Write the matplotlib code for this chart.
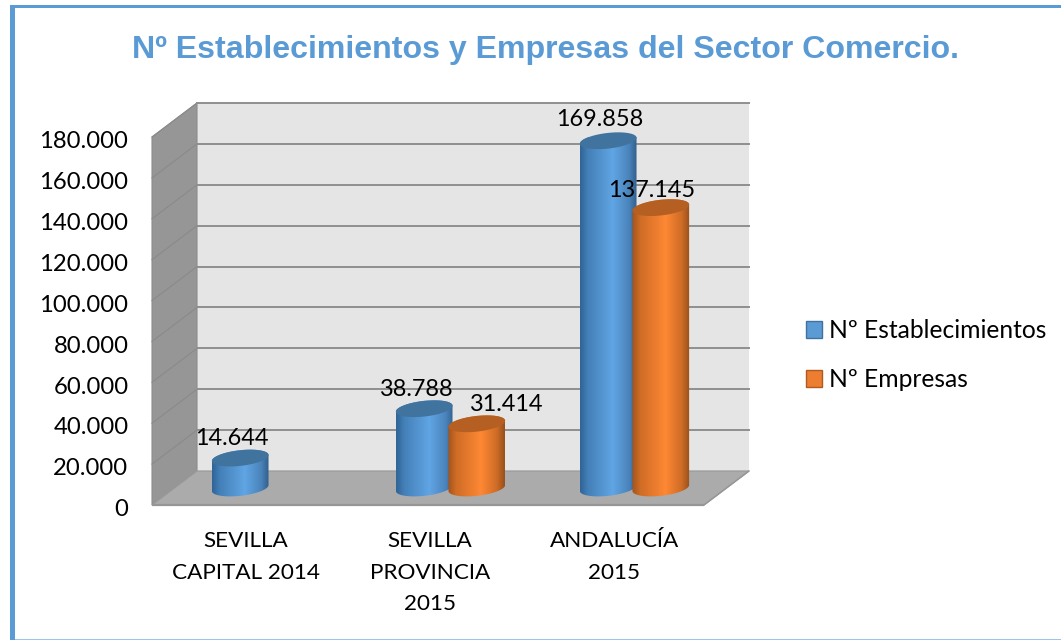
import numpy as np
import matplotlib
matplotlib.use("Agg")
import matplotlib.pyplot as plt
from matplotlib.colors import LinearSegmentedColormap
from matplotlib.patches import Patch, Polygon, Rectangle
from matplotlib.path import Path
from matplotlib.transforms import ScaledTranslation

categories = ["SEVILLA\nCAPITAL 2014", "SEVILLA\nPROVINCIA\n2015", "ANDALUCÍA\n2015"]
establecimientos = [14644, 38788, 169858]
empresas = [None, 31414, 137145]
y_ticks = [0, 20000, 40000, 60000, 80000, 100000, 120000, 140000, 160000, 180000]
y_tick_labels = ["0", "20.000", "40.000", "60.000", "80.000", "100.000",
                 "120.000", "140.000", "160.000", "180.000"]
title = "Nº Establecimientos y Empresas del Sector Comercio."
series_names = ["Nº Establecimientos", "Nº Empresas"]
value_labels_a = ["14.644", "38.788", "169.858"]
value_labels_b = [None, "31.414", "137.145"]

W, H = 1061, 640
FONT = "Lato"
FS_TICK = 17.2
FS_VAL = 16.9
FS_LEG = 17.7
FS_CAT = 16.2
fig = plt.figure(figsize=(W / 100, H / 100), dpi=100, facecolor="white")

# figure frame
BLUE = "#5B9BD5"
fig.add_artist(Rectangle((10 / W, 0), 5 / W, 1 - 5 / H, transform=fig.transFigure, fc=BLUE, ec="none"))
fig.add_artist(Rectangle((10 / W, 1 - 8 / H), 1 - 10 / W, 3 / H, transform=fig.transFigure, fc=BLUE, ec="none"))
fig.add_artist(Rectangle((15 / W, 0), 1 - 15 / W, 1.5 / H, transform=fig.transFigure, fc="#9DC3E6", ec="none"))

L, R, T, B = 152, 704, 137, 505
ax = fig.add_axes([L / W, 1 - B / H, (R - L) / W, (B - T) / H])
ax.patch.set_alpha(0)
for s in ax.spines.values():
    s.set_visible(False)

XMAX, YMAX = 3.0, 180000.0
sx = XMAX / (R - L)   # data units per pixel
sy = YMAX / (B - T)
DX, DY = 45, 34       # depth of the 3D box, pixels


def px(x, y, dx=0, dy=0):
    return (x + dx * sx, y + dy * sy)


# walls
ax.add_patch(Polygon([px(0, 0, DX, DY), px(XMAX, 0, DX, DY), px(XMAX, YMAX, DX, DY), px(0, YMAX, DX, DY)],
                     fc="#E5E5E5", ec="none", zorder=1, clip_on=False))
ax.add_patch(Polygon([px(0, 0), px(0, 0, DX, DY), px(0, YMAX, DX, DY), px(0, YMAX)],
                     fc="#969696", ec="#8C8C8C", lw=0.8, zorder=1.1, clip_on=False))
for v in y_ticks[1:]:
    a, b = px(0, v), px(0, v, DX, DY)
    ax.plot([a[0], b[0]], [a[1], b[1]], color="#8A8A8A", lw=0.8, zorder=1.2, clip_on=False)
    a, b = px(0, v, DX, DY), px(XMAX, v, DX, DY)
    ax.plot([a[0], b[0]], [a[1], b[1]], color="#8F8F8F", lw=1.4, zorder=1.3, clip_on=False)
ax.add_patch(Polygon([px(0, 0), px(XMAX, 0), px(XMAX, 0, DX, DY), px(0, 0, DX, DY)],
                     fc="#ABABAB", ec="#9A9A9A", lw=0.9, zorder=1.5, clip_on=False))
ax.plot([0, XMAX], [0, 0], color="#969696", lw=1.6, zorder=1.6, clip_on=False, solid_capstyle="butt")
ax.plot(*zip(px(XMAX, 0), px(XMAX, 0, DX, DY)), color="#969696", lw=1.0, zorder=1.6, clip_on=False)

# cylinders
A, Bb, TILT = 28.5, 7.8, np.radians(6.5)
BAR_OFF = 26.3
t = np.linspace(0, 2 * np.pi, 121)
ex = A * np.cos(t) * np.cos(TILT) - Bb * np.sin(t) * np.sin(TILT)
ey = A * np.cos(t) * np.sin(TILT) + Bb * np.sin(t) * np.cos(TILT)


def ellipse(cx, cy):
    return np.column_stack([cx + ex * sx, cy + ey * sy])


cm_a = LinearSegmentedColormap.from_list("a", [(0, "#2F6496"), (0.14, "#4480B8"), (0.58, "#60A5E4"),
                                               (0.86, "#4B84BC"), (1, "#31608C")])
cm_b = LinearSegmentedColormap.from_list("b", [(0, "#A2541C"), (0.14, "#CF6C26"), (0.58, "#FE8834"),
                                               (0.86, "#CE6C26"), (1, "#98501C")])
grad = np.linspace(0, 1, 128).reshape(1, -1)
base = DY / 2 * sy


def cylinder(x0, value, cmap, top, z):
    cx = x0 + (DX / 2) * sx
    ax.bar(cx, value, width=2 * A * 0.8 * sx, bottom=base, color=top, zorder=z, clip_on=False)
    b_el = ellipse(cx, base)
    t_el = ellipse(cx, base + value)
    body = np.vstack([b_el[t >= np.pi - 0.01], t_el[t <= np.pi + 0.01]])
    path = Path(np.vstack([body, body[:1]]), closed=True)
    w = A * sx
    im = ax.imshow(grad, cmap=cmap, aspect="auto", zorder=z + 0.1, interpolation="bilinear",
                   extent=(cx - w, cx + w, base - 12 * sy, base + value + 12 * sy))
    im.set_clip_path(path, transform=ax.transData)
    ax.add_patch(Polygon(t_el, closed=True, fc=top, ec="none", zorder=z + 0.2, clip_on=False))
    return cx


label_off_a = [(-8, 20), (-8, 19), (-8, 21)]
label_off_b = [None, (29, 19), (-9, 17)]
for i in range(len(categories)):
    for vals, names, offs, sign, cm, top, z0 in (
            (establecimientos, value_labels_a, label_off_a, -1, cm_a, "#41739F", 2),
            (empresas, value_labels_b, label_off_b, 1, cm_b, "#B55F22", 3)):
        v = vals[i]
        if v is None:
            continue
        x0 = i + 0.5 + sign * BAR_OFF * sx
        cx = cylinder(x0, v, cm, top, z0 + i)
        ax.annotate(names[i], xy=(cx, base + v), xytext=(offs[i][0] * 0.72, offs[i][1] * 0.72),
                    textcoords="offset points", ha="center", va="center", fontsize=FS_VAL,
                    family=FONT, color="black", zorder=10, annotation_clip=False)

ax.set_xlim(0, XMAX)
ax.set_ylim(0, YMAX)
ax.set_xticks(np.arange(len(categories)) + 0.5)
ax.set_xticklabels(categories, family=FONT, fontsize=FS_CAT, linespacing=1.71, color="black")
ax.set_yticks(y_ticks)
ax.set_yticklabels(y_tick_labels, family=FONT, fontsize=FS_TICK, color="black")
ax.tick_params(axis="both", length=0)
ax.tick_params(axis="x", pad=19)
ax.tick_params(axis="y", pad=17)
shift_y = ScaledTranslation(0, -2 / 72, fig.dpi_scale_trans)
for lb in ax.get_yticklabels():
    lb.set_transform(lb.get_transform() + shift_y)
shift_x = ScaledTranslation(1.5 / 72, 0, fig.dpi_scale_trans)
for lb in ax.get_xticklabels():
    lb.set_transform(lb.get_transform() + shift_x)

fig.text(546 / W, 1 - 50 / H, title, ha="center", va="center", color=BLUE,
         fontsize=23.1, fontweight="bold", family="Liberation Sans")

handles = [Patch(fc="#5B9BD5", ec="#41719C", lw=1), Patch(fc="#ED7D31", ec="#AE5A21", lw=1)]
fig.legend(handles, series_names, loc="center left", bbox_to_anchor=(806 / W, 1 - 355 / H),
           frameon=False, prop={"family": FONT, "size": FS_LEG},
           handlelength=0.65, handleheight=0.65, handletextpad=0.27, labelspacing=1.06,
           borderpad=0, borderaxespad=0)

fig.savefig("out.png", dpi=100, facecolor="white")
